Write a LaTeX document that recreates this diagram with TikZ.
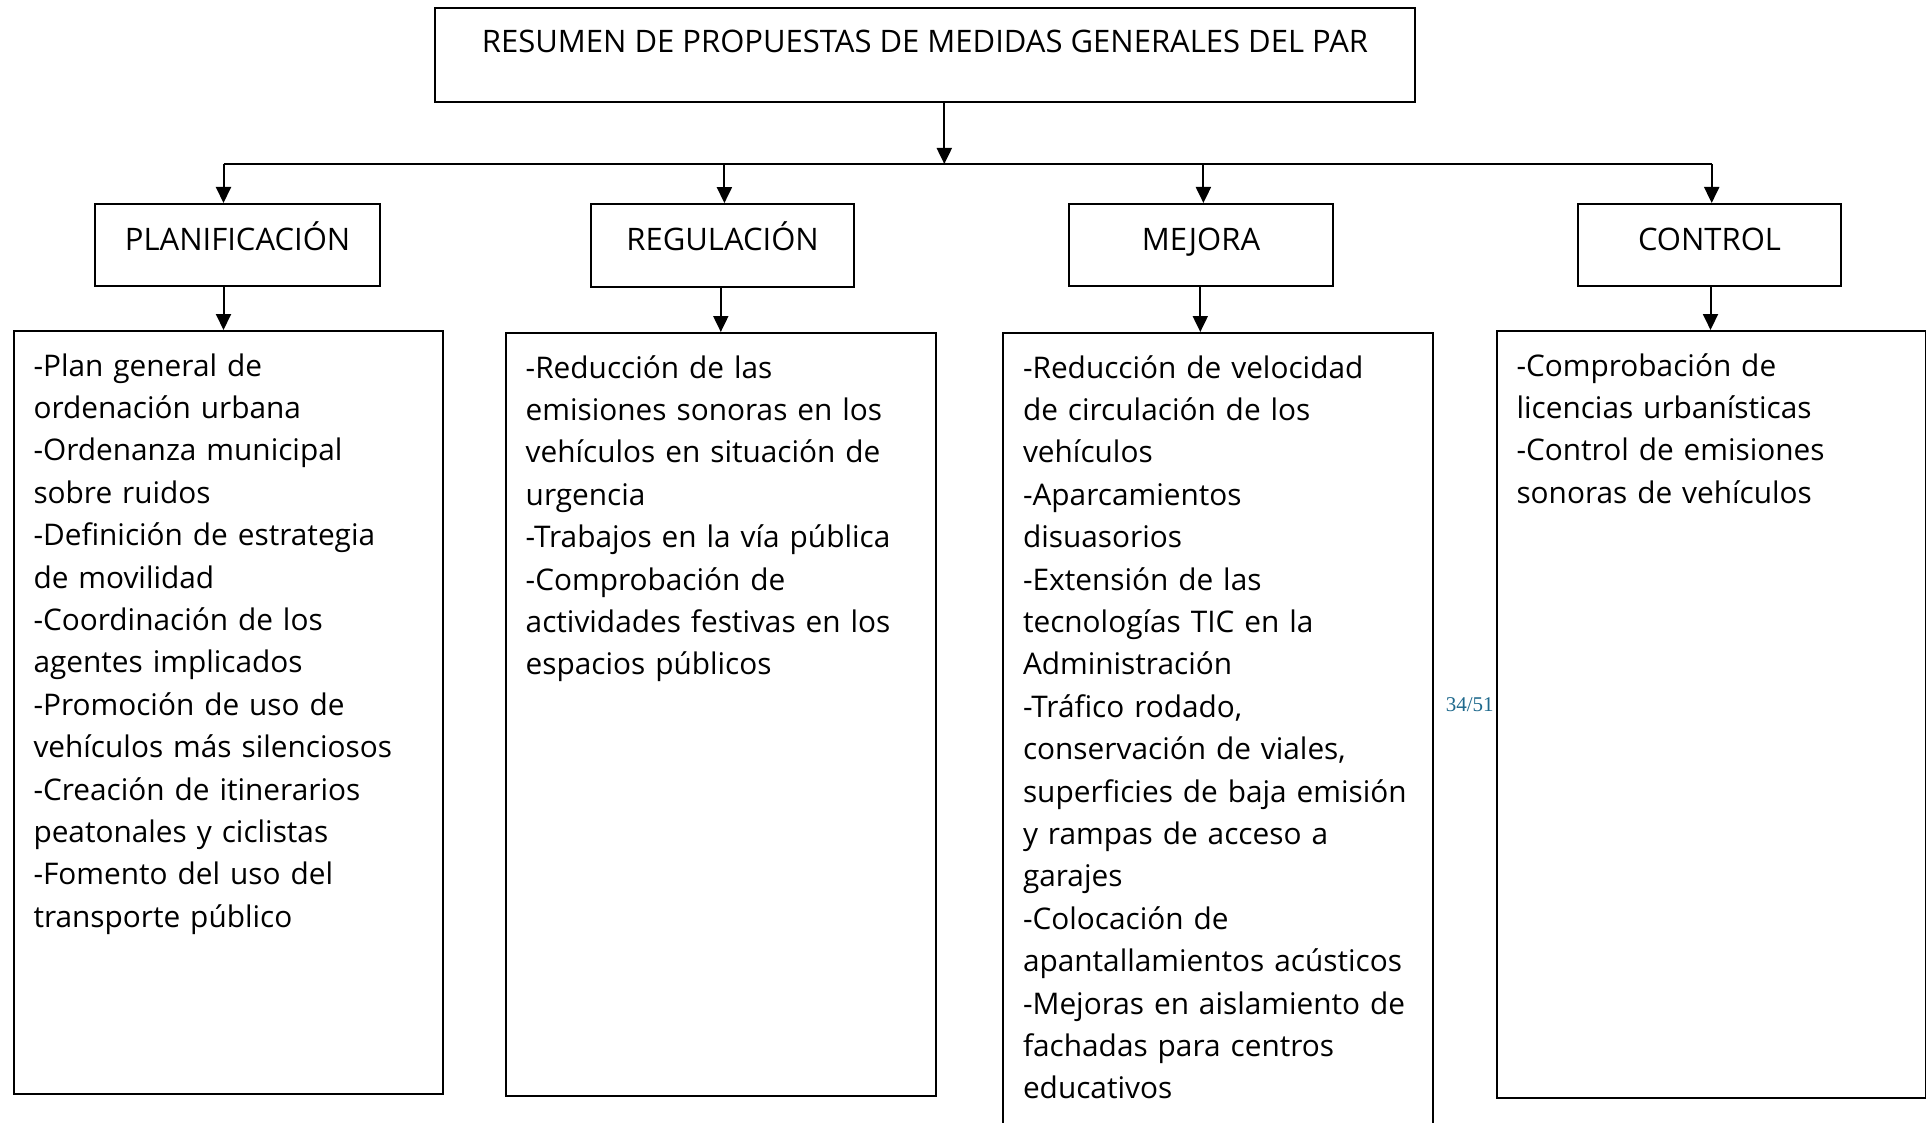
\documentclass[tikz,border=0pt]{standalone}
\usepackage{fontspec}
\setmainfont{Open Sans}
\newfontfamily\pagefont{Liberation Serif}
\usetikzlibrary{arrows.meta}
\definecolor{numpag}{RGB}{31,105,140}
\tikzstyle{titulo} = [draw, line width=1pt, inner sep=0pt, minimum width=490pt, minimum height=47pt, text height=10pt, text depth=11.6pt, font=\fontsize{15.5pt}{21.2pt}\selectfont]
\tikzstyle{grupo} = [draw, line width=1pt, inner sep=0pt, minimum height=41pt, text height=10pt, text depth=5pt, font=\fontsize{15.5pt}{21.2pt}\selectfont]
\tikzstyle{lista} = [draw, line width=1pt, anchor=north west, align=left, inner xsep=10pt, inner ysep=0pt, text height=22.5pt]
\tikzstyle{flecha} = [line width=1pt, -{Triangle[length=8pt, width=7.5pt]}]

\begin{document}
\begin{tikzpicture}[x=0.5pt, y=-0.5pt, every node/.style={font=\fontsize{14.9pt}{21.2pt}\selectfont}]
        \useasboundingbox (0,0) rectangle (1926,1123);
        \node (tit) [titulo] at (925,54.6) {RESUMEN DE PROPUESTAS DE MEDIDAS GENERALES DEL PAR};
        \node (P) [grupo, minimum width=142.5pt] at (237.6,245) {PLANIFICACIÓN};
        \node (R) [grupo, minimum width=131.5pt, minimum height=41.5pt] at (722.6,245.6) {REGULACIÓN};
        \node (M) [grupo, minimum width=132pt] at (1201,245) {MEJORA};
        \node (C) [grupo, minimum width=131.5pt] at (1709.5,245) {CONTROL};
        % listas de medidas
        \node (p1) [lista, text width=194.75pt, text depth=359pt] at (12.5,330) {-Plan general de\\ordenación urbana\\-Ordenanza municipal\\sobre ruidos\\-Definición de estrategia\\de movilidad\\-Coordinación de los\\agentes implicados\\-Promoción de uso de\\vehículos más silenciosos\\-Creación de itinerarios\\peatonales y ciclistas\\-Fomento del uso del\\transporte público};
        \node (r1) [lista, text width=195pt, text depth=358.75pt] at (504.7,332) {-Reducción de las\\emisiones sonoras en los\\vehículos en situación de\\urgencia\\-Trabajos en la vía pública\\-Comprobación de\\actividades festivas en los\\espacios públicos};
        \node (m1) [lista, text width=195pt, text depth=381.5pt] at (1002,332) {-Reducción de velocidad\\de circulación de los\\vehículos\\-Aparcamientos\\disuasorios\\-Extensión de las\\tecnologías TIC en la\\Administración\\-Tráfico rodado,\\conservación de viales,\\superficies de baja emisión\\y rampas de acceso a\\garajes\\-Colocación de\\apantallamientos acústicos\\-Mejoras en aislamiento de\\fachadas para centros\\educativos};
        \node (c1) [lista, text width=194.75pt, text depth=360.85pt] at (1495.5,330) {-Comprobación de\\licencias urbanísticas\\-Control de emisiones\\sonoras de vehículos};
        \node (pag) [anchor=base east, text=numpag, inner sep=0pt, font=\pagefont\fontsize{10.5pt}{12pt}\selectfont] at (1494,711) {34/51};
        % conectores
        \coordinate (bus) at (944.3,164);
        \coordinate (busP) at (223.5,164);
        \coordinate (busR) at (724.4,164);
        \coordinate (busM) at (1203.4,164);
        \coordinate (busC) at (1711.7,164);
        \coordinate (salR) at (720.8,0);
        \coordinate (salM) at (1200.3,0);
        \coordinate (salC) at (1710.5,0);
        \draw [flecha] (tit.south -| bus) -- (bus);
        \draw [line width=1pt] (busP) -- (busC);
        \draw [flecha] (busP) -- (P.north -| busP);
        \draw [flecha] (busR) -- (R.north -| busR);
        \draw [flecha] (busM) -- (M.north -| busM);
        \draw [flecha] (busC) -- (C.north -| busC);
        \draw [flecha] (P.south -| busP) -- (p1.north -| busP);
        \draw [flecha] (R.south -| salR) -- (r1.north -| salR);
        \draw [flecha] (M.south -| salM) -- (m1.north -| salM);
        \draw [flecha] (C.south -| salC) -- (c1.north -| salC);
    \end{tikzpicture}
\end{document}
